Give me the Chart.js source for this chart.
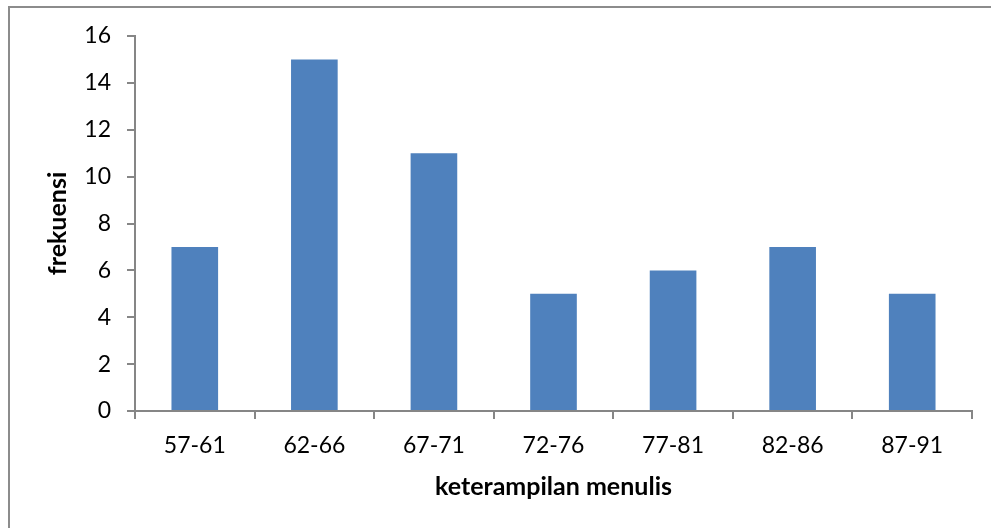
<!DOCTYPE html>
<html>
<head>
<meta charset="utf-8">
<script src="https://cdn.jsdelivr.net/npm/chart.js@4/dist/chart.umd.min.js"></script>
<style>
  html, body { margin: 0; padding: 0; background: #fff; }
  #wrap { position: relative; width: 991px; height: 528px; overflow: hidden; }
  #frame { position: absolute; left: 8px; top: 6px; width: 1200px; height: 800px;
           border-left: 2px solid #8c8c8c; border-top: 2px solid #8c8c8c; }
  canvas { position: absolute; left: 0; top: 0; }
</style>
</head>
<body>
<div id="wrap">
  <div id="frame"></div>
  <canvas id="histChart" width="991" height="528"></canvas>
</div>
<script>
// data
const kelas    = ['57-61', '62-66', '67-71', '72-76', '77-81', '82-86', '87-91'];
const frekuensi = [7, 15, 11, 5, 6, 7, 5];
const yTicks   = [0, 2, 4, 6, 8, 10, 12, 14, 16];

const axisGrey = '#868686';
const fontName = 'Lato, "Open Sans", sans-serif';

const canvas = document.getElementById('histChart');
new Chart(canvas.getContext('2d'), {
  type: 'bar',
  data: {
    labels: kelas,
    datasets: [{
      label: 'frekuensi',
      data: frekuensi,
      backgroundColor: '#4F81BD',
      borderWidth: 0,
      barPercentage: 0.39,
      categoryPercentage: 1
    }]
  },
  options: {
    responsive: false,
    animation: false,
    devicePixelRatio: 1,
    layout: { padding: { top: 36, right: 19, bottom: 0, left: 0 } },
    plugins: { legend: { display: false }, tooltip: { enabled: false } },
    scales: {
      x: {
        offset: true,
        afterFit: s => { s.height = 117; },
        grid: { offset: true, drawOnChartArea: false, drawTicks: true, tickLength: 8, color: axisGrey, lineWidth: 2 },
        border: { color: axisGrey, width: 2 },
        ticks: { color: '#000', font: { family: fontName, size: 23 }, padding: 13, maxRotation: 0 },
        title: { display: true, text: 'keterampilan menulis', color: '#000',
                 font: { family: fontName, size: 25, weight: 'bold' }, padding: { top: 0, bottom: 26 } }
      },
      y: {
        min: 0, max: 16,
        afterFit: s => { s.width = 135; },
        afterBuildTicks: s => { s.ticks = yTicks.map(v => ({ value: v })); },
        grid: { drawOnChartArea: false, drawTicks: true, tickLength: 8, color: axisGrey, lineWidth: 2 },
        border: { color: axisGrey, width: 2 },
        ticks: { color: '#000', font: { family: fontName, size: 23 }, padding: 16 },
        title: { display: true, text: 'frekuensi', color: '#000',
                 font: { family: fontName, size: 25, weight: 'bold' }, padding: { top: 43, bottom: 0 } }
      }
    }
  }
});
</script>
</body>
</html>
